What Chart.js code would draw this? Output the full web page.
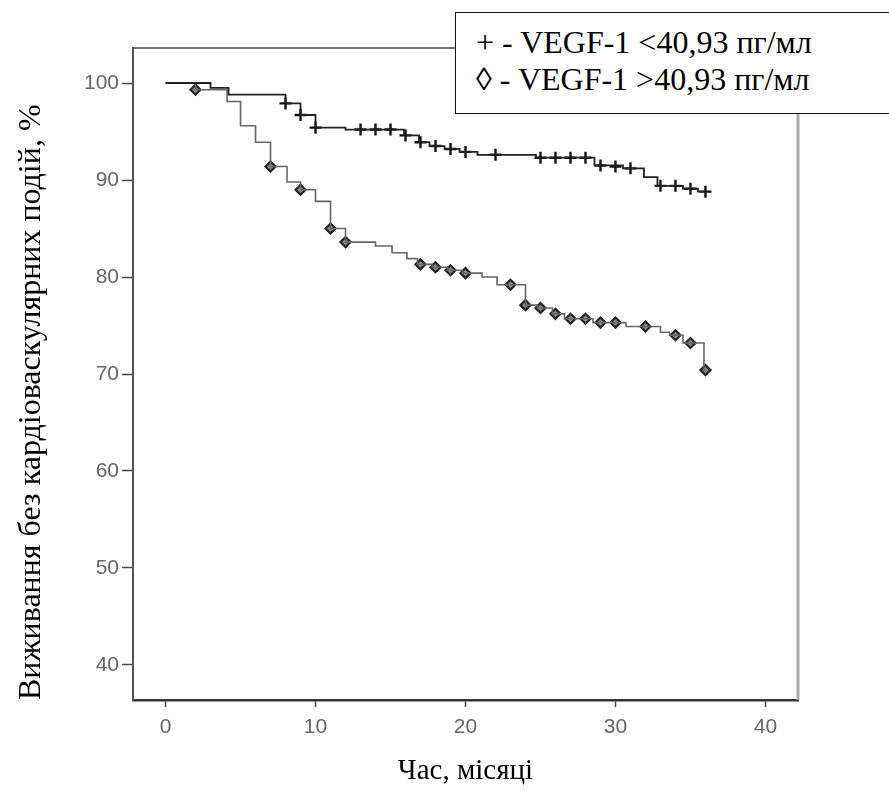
<!DOCTYPE html>
<html>
<head>
<meta charset="utf-8">
<script src="https://cdn.jsdelivr.net/npm/chart.js@4/dist/chart.umd.min.js"></script>
<style>
  html, body { margin: 0; padding: 0; background: #fff; overflow: hidden; }
  #wrap { position: relative; width: 889px; height: 791px; }
  #legend {
    position: absolute; left: 455px; top: 12px; width: 460px; height: 102px;
    box-sizing: border-box; border: 1.5px solid #111; background: #fff;
    font-family: "Liberation Serif", "Times New Roman", serif; font-size: 32px;
    color: #000; padding: 11px 0 0 20px; line-height: 37px; white-space: nowrap;
  }
</style>
</head>
<body>
<div id="wrap">
  <canvas id="c" width="889" height="791"></canvas>
  <div id="legend">
    <div>+ - VEGF-1 &lt;40,93 пг/мл</div>
    <div>◊ - VEGF-1 &gt;40,93 пг/мл</div>
  </div>
</div>
<script>
// ---- data ----
const xTicks = [0, 10, 20, 30, 40];
const yTicks = [40, 50, 60, 70, 80, 90, 100];

// Group VEGF-1 < 40,93 (upper curve, "+")
const lowTimes = [0, 3.0, 4.2, 8.0, 9.0, 10.0, 12.0, 15.9, 16.9, 17.6, 18.6, 19.6, 20.8, 24.7, 28.6, 30.5, 31.9, 32.8, 34.5, 35.5, 36.0];
const lowSurv  = [100, 99.5, 98.8, 97.9, 96.7, 95.4, 95.2, 94.6, 93.9, 93.5, 93.2, 92.9, 92.6, 92.3, 91.5, 91.2, 90.3, 89.4, 89.1, 88.8, 88.8];
const lowCensTimes = [8, 9, 10, 13, 14, 15, 16, 17, 18, 19, 20, 22, 25, 26, 27, 28, 29, 30, 31, 33, 34, 35, 36];
const lowCensSurv  = [97.9, 96.7, 95.4, 95.2, 95.2, 95.2, 94.6, 93.9, 93.5, 93.2, 92.9, 92.6, 92.3, 92.3, 92.3, 92.3, 91.5, 91.4, 91.2, 89.4, 89.4, 89.1, 88.8];

// Group VEGF-1 > 40,93 (lower curve, diamond)
const highTimes = [0, 2.0, 4.1, 5.0, 6.0, 7.0, 8.1, 9.0, 10.0, 11.0, 12.0, 14.0, 15.1, 16.1, 16.8, 17.8, 18.8, 19.8, 21.1, 22.1, 24.0, 24.8, 25.8, 26.6, 28.5, 30.7, 33.0, 33.6, 34.5, 35.9, 36.0];
const highSurv  = [100, 99.3, 98.1, 95.6, 93.9, 91.4, 89.8, 89.0, 87.8, 85.0, 83.6, 83.2, 82.5, 81.9, 81.3, 81.0, 80.7, 80.4, 80.0, 79.2, 77.1, 76.8, 76.2, 75.7, 75.3, 74.9, 74.3, 74.0, 73.2, 70.4, 70.4];
const highCensTimes = [2, 7, 9, 11, 12, 17, 18, 19, 20, 23, 24, 25, 26, 27, 28, 29, 30, 32, 34, 35, 36];
const highCensSurv  = [99.3, 91.4, 89.0, 85.0, 83.6, 81.3, 81.0, 80.7, 80.4, 79.2, 77.1, 76.8, 76.2, 75.7, 75.7, 75.3, 75.3, 74.9, 74.0, 73.2, 70.4];

const xTitle = "Час, місяці";
const yTitle = "Виживання без кардіоваскулярних подій, %";
const seriesNames = ["VEGF-1 <40,93 пг/мл", "VEGF-1 >40,93 пг/мл"];

const pts = (xs, ys) => xs.map((x, i) => ({ x: x, y: ys[i] }));

const framePlugin = {
  id: 'frame',
  afterDraw(chart) {
    const { ctx, chartArea: a } = chart;
    ctx.save();
    ctx.strokeStyle = '#444';
    ctx.lineWidth = 1.5;
    ctx.beginPath();
    ctx.moveTo(a.left, a.top);
    ctx.lineTo(a.right, a.top);
    ctx.stroke();
    ctx.strokeStyle = '#aaa';
    ctx.lineWidth = 3;
    ctx.beginPath();
    ctx.moveTo(a.right, a.top);
    ctx.lineTo(a.right, a.bottom);
    ctx.stroke();
    ctx.restore();
  }
};

const tickFont = { family: "'Liberation Sans', Arial, sans-serif", size: 21 };
const xTitleFont = { family: "'Liberation Serif', 'Times New Roman', serif", size: 29 };
const yTitleFont = { family: "'Liberation Serif', 'Times New Roman', serif", size: 32 };

new Chart(document.getElementById('c'), {
  type: 'scatter',
  data: {
    datasets: [
      { label: seriesNames[0], data: pts(lowTimes, lowSurv), showLine: true, stepped: 'before',
        borderColor: '#222', borderWidth: 1.8, pointRadius: 0, fill: false },
      { label: seriesNames[1], data: pts(highTimes, highSurv), showLine: true, stepped: 'before',
        borderColor: '#666', borderWidth: 1.6, pointRadius: 0, fill: false },
      { label: seriesNames[0] + ' censored', data: pts(lowCensTimes, lowCensSurv), showLine: false,
        pointStyle: 'cross', pointRadius: 6, borderColor: '#111', borderWidth: 2.4 },
      { label: seriesNames[1] + ' censored', data: pts(highCensTimes, highCensSurv), showLine: false,
        pointStyle: 'rectRot', pointRadius: 5, borderColor: '#222', backgroundColor: '#8a8a8a', borderWidth: 2.2 }
    ]
  },
  options: {
    responsive: false,
    animation: false,
    events: [],
    layout: { padding: { left: 0, top: 48, right: 91, bottom: 0 } },
    plugins: { legend: { display: false }, tooltip: { enabled: false } },
    scales: {
      x: {
        type: 'linear', min: -2.17, max: 42.17,
        afterBuildTicks: s => { s.ticks = xTicks.map(v => ({ value: v })); },
        afterFit: s => { s.height = 91; },
        grid: { drawOnChartArea: false, drawTicks: true, tickLength: 7, tickColor: '#444', tickWidth: 1.5 },
        border: { display: true, color: '#333', width: 2.5 },
        ticks: { color: '#666', font: tickFont, padding: 8, maxRotation: 0 },
        title: { display: true, text: xTitle, color: '#000', font: xTitleFont, padding: { top: 0, bottom: 2 } }
      },
      y: {
        type: 'linear', min: 36.39, max: 103.61,
        afterBuildTicks: s => { s.ticks = yTicks.map(v => ({ value: v })); },
        afterFit: s => { s.width = 133; },
        grid: { drawOnChartArea: false, drawTicks: true, tickLength: 11, tickColor: '#444', tickWidth: 1.5 },
        border: { display: true, color: '#555', width: 2 },
        ticks: { color: '#666', font: tickFont, padding: 3 },
        title: { display: true, text: yTitle, color: '#000', font: yTitleFont, align: 'start', padding: { top: 12, bottom: 0 } }
      }
    }
  },
  plugins: [framePlugin]
});
</script>
</body>
</html>
